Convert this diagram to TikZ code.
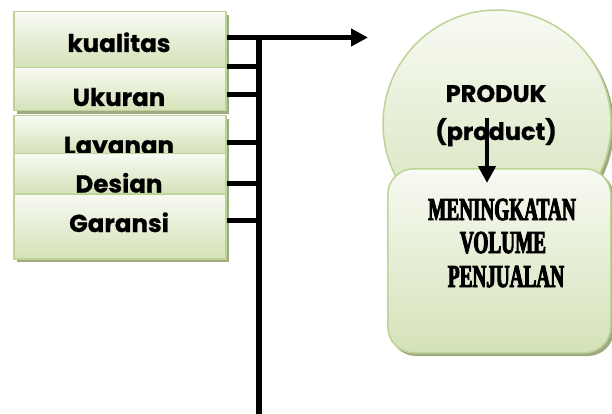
\documentclass[tikz,border=0pt]{standalone}
\usepackage{fontspec}
\usetikzlibrary{arrows.meta,shapes.geometric}
\newfontfamily\lblfont[BoldFeatures={FakeBold=0.8}]{Poppins}
\newfontfamily\condfont[FakeStretch=0.6,FakeBold=3]{Liberation Serif}
\definecolor{edgegreen}{RGB}{190,211,150}
\definecolor{fillgreen}{RGB}{212,226,184}
\definecolor{filltop}{RGB}{248,250,243}
\definecolor{shade}{RGB}{160,170,130}
\tikzset{
  boxshadow/.style={fill=shade, draw=none},
  factor/.style={draw=edgegreen, line width=1.5pt, top color=filltop, bottom color=fillgreen,
    inner sep=0pt, anchor=north west},
  lbl/.style={font=\lblfont\bfseries\fontsize{24.5}{28}\selectfont, anchor=base, inner sep=0pt},
  bar/.style={line width=5pt},
  goal/.style={font=\condfont\bfseries\fontsize{32}{36}\selectfont, align=center, inner sep=0pt, anchor=base}
}
\begin{document}
\begin{tikzpicture}[x=1pt,y=-1pt]
\useasboundingbox (0,0) rectangle (612,414);

% stacked factor boxes, each one drawn over the text of the one above
\fill[boxshadow] (17,15) rectangle (229,71);
\node[factor, minimum width=212pt, minimum height=56pt] (kual) at (13,11) {};
\node[lbl] (kualt) at (119,52) {kualitas};

\fill[boxshadow] (17,71) rectangle (229,114);
\node[factor, minimum width=212pt, minimum height=43pt] (ukur) at (13,67) {};
\node[lbl] (ukurt) at (119,106) {Ukuran};

\fill[boxshadow] (17,119) rectangle (229,157);
\node[factor, minimum width=212pt, minimum height=38pt] (laya) at (13,115) {};
\node[lbl] (layat) at (119,154) {Layanan};

\fill[boxshadow] (17,157) rectangle (229,197);
\node[factor, minimum width=212pt, minimum height=40pt] (desi) at (13,153) {};
\node[lbl] (desit) at (119,192.5) {Design};

\fill[boxshadow] (17,197) rectangle (229,262);
\node[factor, minimum width=212pt, minimum height=65pt] (gara) at (13,193) {};
\node[lbl] (garat) at (119,232) {Garansi};

% collecting bus
\coordinate (bustop) at (259,35.5);
\coordinate (busbot) at (259,414);
\draw[line width=6pt] (bustop) -- (busbot);
\coordinate (t2) at (259,67);
\coordinate (t3) at (259,95);
\coordinate (t4) at (259,143);
\coordinate (t5) at (259,183);
\coordinate (t6) at (259,220);
\draw[bar] (kual.east |- t2) -- (t2);
\draw[bar] (ukur.east |- t3) -- (t3);
\draw[bar] (laya.east |- t4) -- (t4);
\draw[bar] (desi.east |- t5) -- (t5);
\draw[bar] (gara.east |- t6) -- (t6);

% product circle and goal box
\fill[boxshadow] (500,127) circle (114);
\node[ellipse, draw=edgegreen, line width=1.5pt, top color=filltop, bottom color=fillgreen,
  minimum width=228pt, minimum height=228pt, inner sep=0pt] (prod) at (497,124) {};
\node[lbl, font=\lblfont\bfseries\fontsize{24}{28}\selectfont] (prodt1) at (496,102) {PRODUK};
\node[lbl, font=\lblfont\bfseries\fontsize{24}{28}\selectfont] (prodt2) at (496,140) {(product)};

\fill[boxshadow, rounded corners=26pt] (390,171) rectangle (614,356);
\node[draw=edgegreen, line width=1.5pt, top color=filltop, bottom color=fillgreen,
  rounded corners=26pt, minimum width=223pt, minimum height=184pt, inner sep=0pt,
  anchor=north west] (goal) at (387,168) {};
\node[goal] (g1) at (502,220) {MENINGKATAN};
\node[goal] (g2) at (503,253) {VOLUME};
\node[goal] (g3) at (506,287) {PENJUALAN};

% arrows
\coordinate (outtip) at (368,37.5);
\draw[bar, -{Triangle[length=17pt,width=17pt]}] (kual.east |- outtip) -- (outtip);
\coordinate (dstart) at (487,118);
\coordinate (dtip) at (487,183);
\draw[line width=4.5pt, -{Triangle[length=17pt,width=17pt]}] (dstart) -- (dtip);
\end{tikzpicture}
\end{document}
